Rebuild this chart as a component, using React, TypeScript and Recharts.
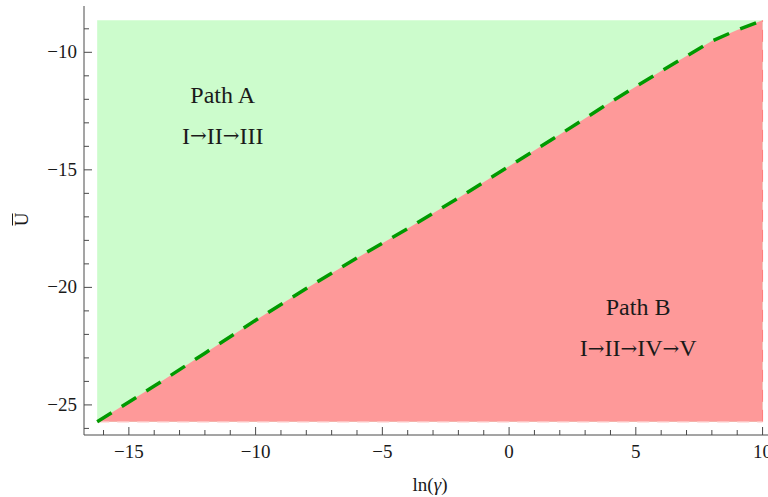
import { ComposedChart, Area, Line, XAxis, YAxis, ReferenceDot, ReferenceLine } from 'recharts';

// boundary curve U(ln γ) between the two regions
const lnGamma = [-16.25, -14, -12, -10, -8, -6, -4, -2, 0, 2, 4, 6, 8, 9, 10];
const uBound = [-25.72, -24.2, -22.8, -21.4, -20.05, -18.75, -17.5, -16.2, -14.85, -13.5, -12.12, -10.8, -9.52, -9.05, -8.64];
const uBottom = -25.72;
const uTop = -8.64;

const xTicks = [-16, -15, -14, -13, -12, -11, -10, -9, -8, -7, -6, -5, -4, -3, -2, -1, 0, 1, 2, 3, 4, 5, 6, 7, 8, 9, 10];
const yTicks = [-26, -25, -24, -23, -22, -21, -20, -19, -18, -17, -16, -15, -14, -13, -12, -11, -10, -9];

const pathLabels = [
  { x: -11.3, y: -11.8, text: 'Path A' },
  { x: -11.3, y: -13.55, text: 'I→II→III' },
  { x: 5.09, y: -20.85, text: 'Path B' },
  { x: 5.09, y: -22.6, text: 'I→II→IV→V' },
];

const data = lnGamma.map((x, i) => ({ x, u: uBound[i], top: uTop }));

const FONT = '"Liberation Serif", "Times New Roman", serif';
const AXIS = '#4a4a4a';

const fmt = (v: number) => (v < 0 ? '\u2212' + Math.abs(v) : String(v));

function XTick(props: any) {
  const { x, y, payload } = props;
  const major = payload.value % 5 === 0;
  return (
    <g>
      <line x1={x} x2={x} y1={y} y2={y - (major ? 8 : 5)} stroke={AXIS} strokeWidth={1} />
      {major && (
        <text x={x} y={y + 23} textAnchor="middle" fontSize={19} fontFamily={FONT} fill="#1a1a1a">
          {fmt(payload.value)}
        </text>
      )}
    </g>
  );
}

function YTick(props: any) {
  const { x, y, payload } = props;
  const major = payload.value % 5 === 0;
  return (
    <g>
      <line x1={x} x2={x + (major ? 8 : 5)} y1={y} y2={y} stroke={AXIS} strokeWidth={1} />
      {major && (
        <text x={x - 7} y={y + 6} textAnchor="end" fontSize={19} fontFamily={FONT} fill="#1a1a1a">
          {fmt(payload.value)}
        </text>
      )}
    </g>
  );
}

function YLabel(props: any) {
  const { viewBox } = props;
  const cx = 22;
  const cy = viewBox.y + viewBox.height / 2 - 1;
  return (
    <g transform={`translate(${cx},${cy}) rotate(-90)`}>
      <text x={0} y={6} textAnchor="middle" fontSize={19} fontFamily={FONT} fill="#1a1a1a">
        U
      </text>
      <line x1={-6} x2={6} y1={-9.5} y2={-9.5} stroke="#1a1a1a" strokeWidth={1} />
    </g>
  );
}

function XLabel(props: any) {
  const { viewBox } = props;
  return (
    <text x={viewBox.x + viewBox.width / 2} y={491} textAnchor="middle" fontSize={19} fontFamily={FONT} fill="#1a1a1a">
      ln(<tspan fontStyle="italic">γ</tspan>)
    </text>
  );
}

function PathText(props: any) {
  const { viewBox, value } = props;
  const cx = viewBox.x + (viewBox.width || 0) / 2;
  const cy = viewBox.y + (viewBox.height || 0) / 2;
  const parts = String(value).split('→');
  return (
    <text x={cx} y={cy + 8} textAnchor="middle" fontSize={24} fontFamily={FONT} fill="#1a1a1a">
      {parts.map((p, i) => (
        <tspan key={i}>
          {i > 0 && (
            <tspan fontSize={20} fontFamily='"DejaVu Serif", serif' dy={-1.5}>
              →
            </tspan>
          )}
          <tspan dy={i > 0 ? 1.5 : 0}>{p}</tspan>
        </tspan>
      ))}
    </text>
  );
}

export default function App() {
  return (
    <div style={{ position: 'absolute', left: 0, top: 0, width: 768, height: 497, overflow: 'hidden', background: '#fff' }}>
      <ComposedChart width={800} height={497} data={data} margin={{ top: 6, right: 24, bottom: 0, left: 0 }}>
        <XAxis
          dataKey="x"
          type="number"
          domain={[-16.77, 10.53]}
          ticks={xTicks}
          interval={0}
          allowDataOverflow
          height={62}
          tickSize={0}
          tickMargin={0}
          tickLine={false}
          tick={<XTick />}
          stroke={AXIS}
          label={<XLabel />}
        />
        <XAxis xAxisId="top" orientation="top" type="number" dataKey="x" domain={[-16.77, 10.53]} height={0} tick={false} tickLine={false} stroke={AXIS} />
        <YAxis
          type="number"
          domain={[-26.28, -8.03]}
          ticks={yTicks}
          interval={0}
          allowDataOverflow
          width={84}
          tickSize={0}
          tickMargin={0}
          tickLine={false}
          tick={<YTick />}
          stroke={AXIS}
          label={<YLabel />}
        />
        <Area dataKey="top" type="linear" baseValue={uBottom} fill="#ccfccc" fillOpacity={1} stroke="none" isAnimationActive={false} />
        <Area dataKey="u" type="linear" baseValue={uBottom} fill="#fe9999" fillOpacity={1} stroke="none" isAnimationActive={false} />
        <ReferenceLine segment={[{ x: 10, y: uBottom }, { x: 10, y: uTop }]} stroke="#ff7a7a" strokeDasharray="12 8" strokeWidth={1} />
        <ReferenceLine segment={[{ x: -16.25, y: uBottom }, { x: 10, y: uBottom }]} stroke="#ffc8c8" strokeDasharray="12 8" strokeWidth={1.2} />
        <Line dataKey="u" type="linear" stroke="#009a00" strokeWidth={3.5} strokeDasharray="17 12" dot={false} isAnimationActive={false} />
        {pathLabels.map((p) => (
          <ReferenceDot
            key={p.text}
            x={p.x}
            y={p.y}
            r={0}
            fill="none"
            stroke="none"
            label={<PathText value={p.text} />}
          />
        ))}
      </ComposedChart>
    </div>
  );
}
